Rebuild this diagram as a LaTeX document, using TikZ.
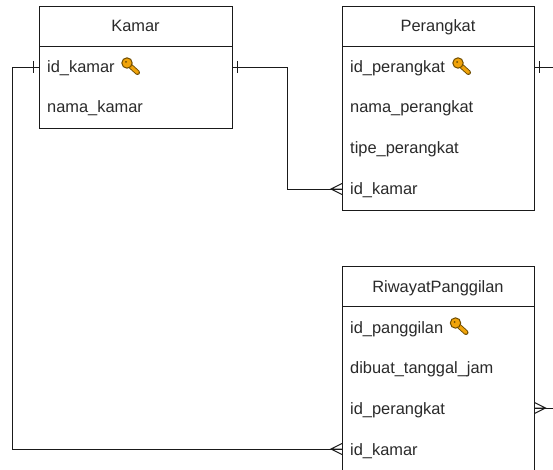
\documentclass[tikz,border=0pt]{standalone}
\usepackage{fontspec}
\setmainfont{Liberation Sans}
\definecolor{ink}{HTML}{1A1A1A}
\definecolor{txt}{HTML}{2A2A2A}
\definecolor{keyfill}{HTML}{F0A30A}
\definecolor{keyline}{HTML}{6E4C00}
\tikzset{
  x=1pt,y=-1pt,
  entity/.style={draw=ink,line width=0.95pt,fill=white,minimum width=#1,inner sep=0pt,outer sep=0pt},
  title/.style={text=txt,font=\fontsize{16.4}{18}\selectfont,inner sep=0pt,anchor=base},
  row/.style={text=txt,font=\fontsize{16.4}{18}\selectfont,inner sep=0pt,anchor=base west},
  conn/.style={draw=ink,line width=0.95pt},
  mark line/.style={draw=ink,line width=0.95pt},
  keyicon/.pic={
    \draw[keyline,line width=5pt,line cap=round] (0,0) -- (10.5,9.5);
    \draw[keyfill,line width=3.2pt,line cap=round] (0,0) -- (10.5,9.5);
    \draw[keyline,line width=1pt,fill=keyfill] (0,0) circle[radius=5.2];
    \fill[keyline] (-1,-1) circle[radius=1];
  },
  onebar/.pic={\draw[mark line] (0,-6) -- (0,6);},
  crowfoot/.pic={\draw[mark line] (0,-5.5) -- (-11,0) -- (0,5.5) (0,0) -- (-11,0);}
}
\begin{document}
\begin{tikzpicture}
\useasboundingbox (0,0) rectangle (553,470);
\clip (0,0) rectangle (553,470);
\fill[white] (0,0) rectangle (553,470);
% entities
\node[entity=193pt,minimum height=122.5pt,anchor=north west] (kamar) at (39,6) {};
\node[entity=192.5pt,minimum height=204pt,anchor=north west] (perangkat) at (342,6) {};
\node[entity=192.5pt,minimum height=240pt,anchor=north west] (riwayat) at (342,266) {};
\draw[conn] (39,46.7) -- (232,46.7);
\draw[conn] (342,46.7) -- (534.5,46.7);
\draw[conn] (342,306.7) -- (534.5,306.7);
% titles
\node[title] (tk) at (135.5,32) {Kamar};
\node[title] (tp) at (438,32) {Perangkat};
\node[title] (tr) at (438,292) {RiwayatPanggilan};
% rows
\node[row] (k1) at (47,73) {id\_kamar};
\node[row] (k2) at (47,113) {nama\_kamar};
\node[row] (p1) at (350,73) {id\_perangkat};
\node[row] (p2) at (350,113) {nama\_perangkat};
\node[row] (p3) at (350,154) {tipe\_perangkat};
\node[row] (p4) at (350,195) {id\_kamar};
\node[row] (r1) at (350,333) {id\_panggilan};
\node[row] (r2) at (350,373) {dibuat\_tanggal\_jam};
\node[row] (r3) at (350,414) {id\_perangkat};
\node[row] (r4) at (350,455) {id\_kamar};
% keys
\pic at (127,63) {keyicon};
\pic at (458,63) {keyicon};
\pic at (455.5,323) {keyicon};
% connection points
\coordinate (kL) at (kamar.west |- 0,67);
\coordinate (kR) at (kamar.east |- 0,67);
\coordinate (pK) at (perangkat.west |- 0,189);
\coordinate (pR) at (perangkat.east |- 0,67);
\coordinate (rK) at (riwayat.west |- 0,449);
\coordinate (rP) at (riwayat.east |- 0,408);
\coordinate (outP) at (553,67);
\coordinate (outR) at (553,408);
% connectors
\draw[conn] (kL) -| (12,449) -- (rK);
\draw[conn] (kR) -- (287,67) -- (287,189) -- (pK);
\draw[conn] (pR) -- (outP);
\draw[conn] (rP) -- (outR);
% ends
\pic at ([xshift=-6pt]kL) {onebar};
\pic at ([xshift=5pt]kR) {onebar};
\pic at ([xshift=5pt]pR) {onebar};
\pic at (pK) {crowfoot};
\pic at (rK) {crowfoot};
\pic[xscale=-1] at (rP) {crowfoot};
\end{tikzpicture}
\end{document}
